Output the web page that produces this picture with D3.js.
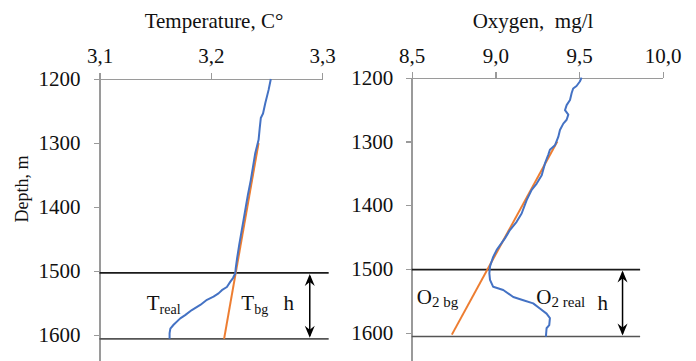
<!DOCTYPE html>
<html lang="en">
<head>
<meta charset="utf-8">
<title>Temperature and oxygen profiles</title>
<script src="https://d3js.org/d3.v7.min.js"></script>
<style>
    body { margin: 0; background: white; }
    svg text { font-family: "Liberation Serif", "Times New Roman", serif; fill: #111; }
    .axis path, .axis line { stroke: #9a9a9a; shape-rendering: crispEdges; }
</style>
</head>
<body>
<svg width="696" height="361"></svg>
<script>
    // depth ticks (m)
    var depthTicks = [1200, 1300, 1400, 1500, 1600];

    // temperature panel
    var tempTicks = [3.1, 3.2, 3.3];
    var tempDepth = [1200, 1217, 1238, 1254, 1261, 1277, 1295, 1316, 1337, 1358, 1380, 1400, 1420, 1440, 1460, 1480, 1495,
        1504, 1511, 1517, 1525, 1530, 1535, 1540, 1545, 1553, 1561, 1569, 1574, 1584, 1590, 1597, 1606];
    var tempReal = [3.254, 3.252, 3.249, 3.247, 3.245, 3.244, 3.243, 3.240, 3.238, 3.236, 3.2335, 3.2315, 3.2295, 3.2275, 3.2255, 3.2237, 3.2225,
        3.222, 3.220, 3.2175, 3.2145, 3.210, 3.207, 3.2025, 3.1966, 3.1906, 3.183, 3.177, 3.1726, 3.1666, 3.1637, 3.163, 3.163];
    var tempBgDepth = [1300, 1606];
    var tempBg = [3.243, 3.212];

    // oxygen panel
    var oxyTicks = [8.5, 9.0, 9.5, 10.0];
    var oxyDepth = [1200, 1206, 1213, 1217, 1224, 1235, 1243, 1251, 1258, 1266, 1272, 1282, 1293, 1306, 1313, 1321, 1334, 1353, 1366, 1376,
        1392, 1413, 1426, 1439, 1452, 1470, 1481, 1496, 1507, 1517, 1528, 1533, 1544, 1549, 1554, 1562, 1570, 1577, 1588, 1593, 1606];
    var oxyReal = [9.515, 9.505, 9.485, 9.465, 9.456, 9.446, 9.426, 9.416, 9.436, 9.426, 9.406, 9.386, 9.376, 9.356, 9.326, 9.316, 9.297, 9.277, 9.247, 9.217,
        9.187, 9.157, 9.127, 9.087, 9.057, 9.008, 8.987, 8.968, 8.964, 8.968, 8.987, 9.047, 9.107, 9.167, 9.226, 9.266, 9.306, 9.326, 9.322, 9.306, 9.302];
    var oxyBgDepth = [1300, 1603];
    var oxyBg = [9.37, 8.74];

    // boundary depths of layer h (as drawn)
    var layerDepths = [1503, 1606];

    var svg = d3.select("svg");
    var serif = "'Liberation Serif', 'Times New Roman', serif";
    var fmt = function(d) { return d.toFixed(1).replace(".", ","); };

    function styleAxis(s, domainW, domainC) {
        s.attr("font-family", serif).attr("font-size", 21);
        s.select(".domain").attr("stroke-width", domainW).attr("stroke", domainC);
        s.selectAll(".tick line").attr("stroke-width", 1.3);
        s.selectAll(".tick text")
            .style("font-family", serif)
            .style("font-size", "21px")
            .attr("fill", "#111");
    }

    function panel(opt) {
        var x = d3.scaleLinear().domain(opt.xDomain).range(opt.xRange);
        var y = d3.scaleLinear().domain([1200, 1650]).range(opt.yRange);
        var g = svg.append("g");

        // title
        g.append("text")
            .attr("x", opt.titleX)
            .attr("y", 28)
            .attr("text-anchor", "middle")
            .style("font-size", "21px")
            .style("white-space", "pre")
            .text(opt.title);

        // top axis
        g.append("g")
            .attr("class", "axis")
            .attr("transform", "translate(0," + y(1200) + ")")
            .call(d3.axisTop(x).tickValues(opt.xTicks).tickFormat(fmt).tickSize(6).tickSizeOuter(0).tickPadding(opt.xPad))
            .call(styleAxis, 1.3, "#9a9a9a");

        // left axis
        g.append("g")
            .attr("class", "axis")
            .attr("transform", "translate(" + x(opt.xDomain[0]) + ",0)")
            .call(d3.axisLeft(y).tickValues(depthTicks).tickFormat(d3.format("d")).tickSize(6).tickSizeOuter(0).tickPadding(opt.yPad))
            .call(styleAxis, 2, "#a8a8a8");

        // boundary lines
        layerDepths.forEach(function(d, i) {
            g.append("line")
                .attr("x1", x(opt.xDomain[0])).attr("x2", x(opt.lineEnd))
                .attr("y1", y(d + opt.dOff[i])).attr("y2", y(d + opt.dOff[i]))
                .attr("stroke", i === 0 ? "#1a1a1a" : "#555")
                .attr("stroke-width", 1.6);
        });

        var line = d3.line()
            .x(function(d) { return x(d[1]); })
            .y(function(d) { return y(d[0]); });

        g.append("path")
            .datum(d3.zip(opt.bgDepth, opt.bg))
            .attr("fill", "none")
            .attr("stroke", "#ed7d31")
            .attr("stroke-width", 2)
            .attr("d", line);

        g.append("path")
            .datum(d3.zip(opt.realDepth, opt.real))
            .attr("fill", "none")
            .attr("stroke", "#4472c4")
            .attr("stroke-width", 2)
            .attr("stroke-linejoin", "round")
            .attr("d", line);

        // double arrow for h
        var ax = x(opt.arrowX), y1 = y(layerDepths[0] + opt.dOff[0]), y2 = y(layerDepths[1] + opt.dOff[1]);
        g.append("line")
            .attr("x1", ax).attr("x2", ax).attr("y1", y1 + 3).attr("y2", y2 - 3)
            .attr("stroke", "black").attr("stroke-width", 1.5);
        g.append("path")
            .attr("d", "M" + ax + "," + (y1 + 1) + "l-5,12l5,-4l5,4z")
            .attr("fill", "black");
        g.append("path")
            .attr("d", "M" + ax + "," + (y2 - 1) + "l-5,-12l5,4l5,-4z")
            .attr("fill", "black");

        g.append("text")
            .attr("x", x(opt.hX))
            .attr("y", 310)
            .style("font-size", "21px")
            .text("h");

        // labels with subscripts
        opt.labels.forEach(function(l) {
            var t = g.append("text")
                .attr("x", x(l.x))
                .attr("y", l.y)
                .style("font-size", "21px");
            t.append("tspan").text(l.main);
            t.append("tspan")
                .attr("dy", l.dy)
                .style("font-size", l.subSize)
                .style("white-space", "pre")
                .text(l.sub);
        });
    }

    panel({
        title: "Temperature, C\u00B0", titleX: 214,
        xDomain: [3.1, 3.3], xRange: [99.5, 322], xTicks: tempTicks, xPad: 10, yPad: 13,
        yRange: [79, 367],
        dOff: [0, 0],
        lineEnd: 3.306,
        realDepth: tempDepth, real: tempReal, bgDepth: tempBgDepth, bg: tempBg,
        arrowX: 3.289, hX: 3.2655,
        labels: [
            {x: 3.1425, y: 310, main: "T", sub: "real", dy: 4, subSize: "14px"},
            {x: 3.2275, y: 310, main: "T", sub: "bg", dy: 4, subSize: "14px"}
        ]
    });

    panel({
        title: "Oxygen,  mg/l", titleX: 533,
        xDomain: [8.5, 10.0], xRange: [411.7, 662.7], xTicks: oxyTicks, xPad: 9, yPad: 12.5,
        yRange: [77.7, 364.6],
        dOff: [-2, 0],
        lineEnd: 9.865,
        realDepth: oxyDepth, real: oxyReal, bgDepth: oxyBgDepth, bg: oxyBg,
        arrowX: 9.76, hX: 9.61,
        labels: [
            {x: 8.53, y: 304, main: "O", sub: "2 bg", dy: 3, subSize: "15px"},
            {x: 9.245, y: 304, main: "O", sub: "2 real", dy: 3, subSize: "15px"}
        ]
    });

    // y axis title
    svg.append("text")
        .attr("transform", "translate(28,189) rotate(-90)")
        .attr("text-anchor", "middle")
        .style("font-size", "18px")
        .text("Depth, m");
</script>
</body>
</html>
